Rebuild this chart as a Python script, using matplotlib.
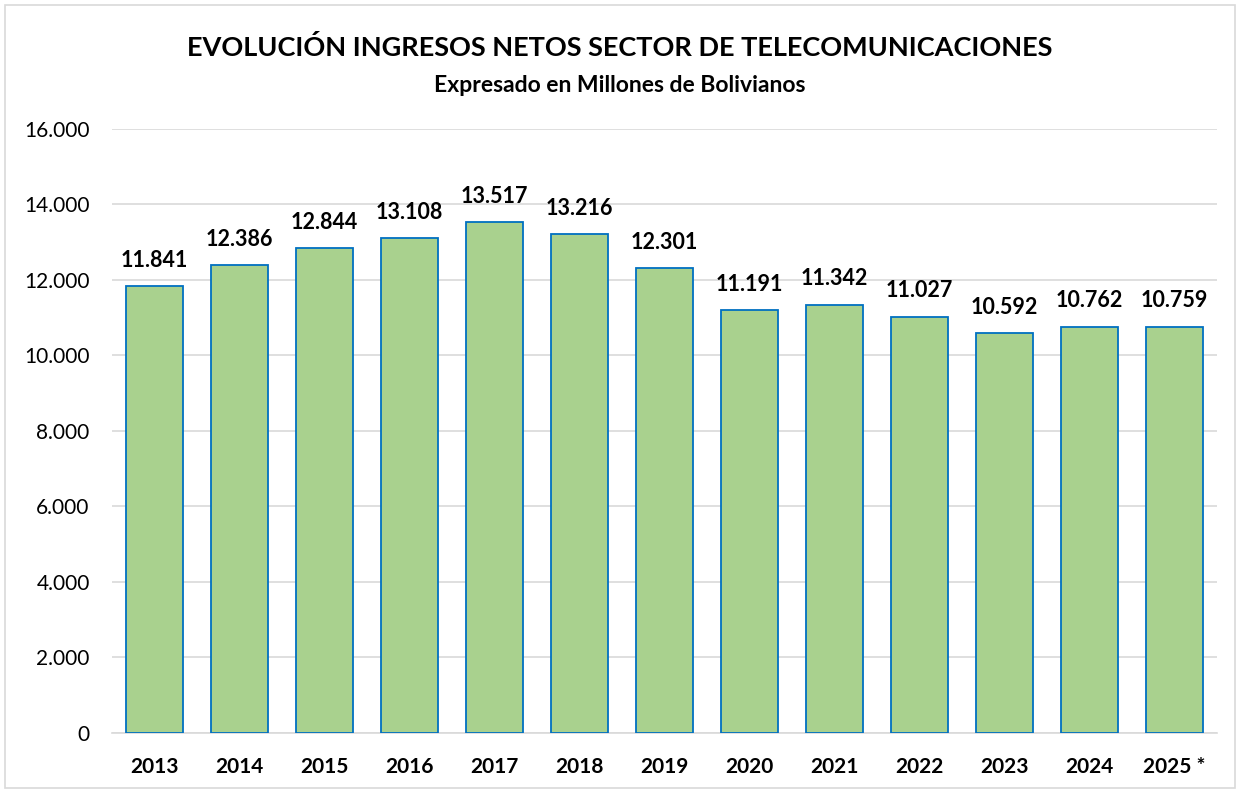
import matplotlib

matplotlib.use("Agg")
import matplotlib.pyplot as plt
from matplotlib.patches import Rectangle
from matplotlib.ticker import FuncFormatter

years = ["2013", "2014", "2015", "2016", "2017", "2018", "2019",
         "2020", "2021", "2022", "2023", "2024", "2025 *"]
ingresos = [11841, 12386, 12844, 13108, 13517, 13216, 12301,
            11191, 11342, 11027, 10592, 10762, 10759]


def miles(v):
    return f"{v:,.0f}".replace(",", ".")


plt.rcParams["font.family"] = ["Lato", "DejaVu Sans"]

fig = plt.figure(figsize=(12.4, 7.91), dpi=100)
fig.patches.append(Rectangle((0.004, 0.004), 0.992, 0.99, transform=fig.transFigure,
                             fill=False, edgecolor="#d9d9d9", linewidth=1.2))
ax = fig.add_axes([0.0903, 0.0733, 0.891, 0.764])

x = range(len(years))
bars = ax.bar(x, ingresos, width=0.67, color="#a9d18e", edgecolor="#0070c0", linewidth=1.3, zorder=3)
for rect, v in zip(bars, ingresos):
    ax.annotate(miles(v), (rect.get_x() + rect.get_width() / 2, v), xytext=(0, 11),
                textcoords="offset points", ha="center", va="bottom",
                fontsize=15.5, fontweight="bold")

ax.set_xlim(-0.5, len(years) - 0.5)
ax.set_ylim(0, 16000)
ax.set_yticks(range(0, 16001, 2000))
ax.yaxis.set_major_formatter(FuncFormatter(lambda v, _: miles(v)))
ax.set_xticks(list(x))
ax.set_xticklabels(years, fontsize=15, fontweight="bold")
ax.tick_params(axis="y", labelsize=15, length=0, pad=16)
ax.tick_params(axis="x", length=0, pad=17)
ax.grid(axis="y", color="#d9d9d9", linewidth=1.2, zorder=0)
for side in ["top", "right", "left"]:
    ax.spines[side].set_visible(False)
ax.spines["bottom"].set_color("#d9d9d9")
ax.spines["bottom"].set_linewidth(1.2)

fig.text(0.5, 0.94, "EVOLUCIÓN INGRESOS NETOS SECTOR DE TELECOMUNICACIONES",
         ha="center", va="center", fontsize=19.5, fontweight="bold")
fig.text(0.5, 0.892, "Expresado en Millones de Bolivianos",
         ha="center", va="center", fontsize=16.5, fontweight="bold")

fig.savefig("out.png", dpi=100)
